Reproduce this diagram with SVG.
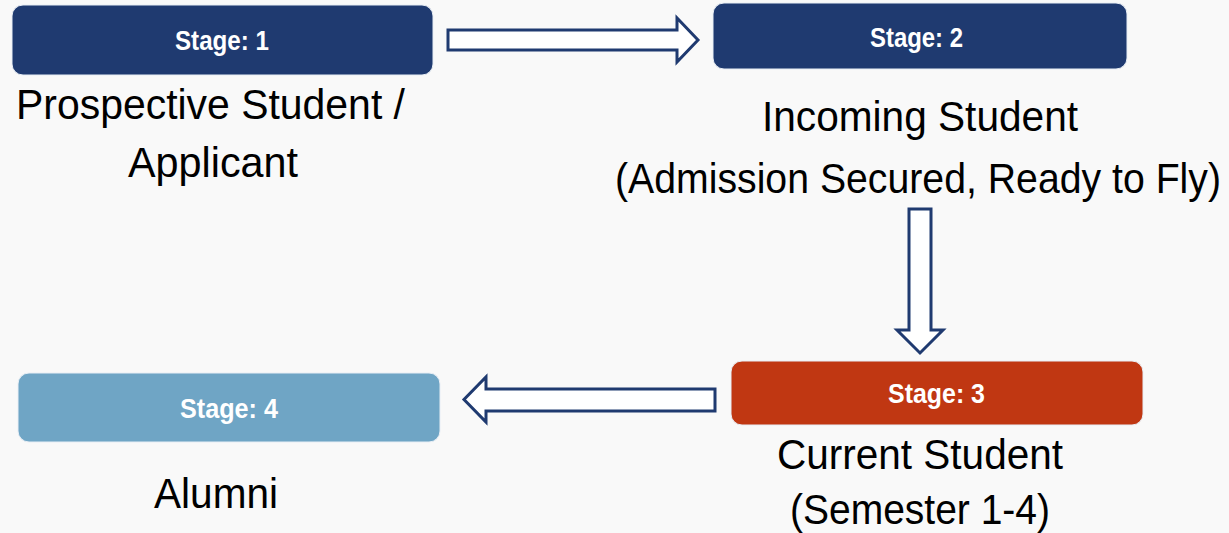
<svg xmlns="http://www.w3.org/2000/svg" width="1229" height="533" viewBox="0 0 1229 533">
<style>
.bg{fill:#f9f9f9}
.box{stroke:#e8eef5;stroke-width:1}
.stage{font-family:"Liberation Sans",Arial,sans-serif;font-weight:bold;font-size:27px;fill:#ffffff;text-anchor:middle}
.lbl{font-family:"Liberation Sans",Arial,sans-serif;font-size:42px;fill:#000000;text-anchor:middle}
.arrow{fill:#ffffff;stroke:#1f3a70;stroke-width:3;stroke-linejoin:miter}
</style>
<rect class="bg" x="0" y="0" width="1229" height="533"/>
<g id="connectors">
<polygon class="arrow" points="448,30 677,30 677,18 698,40 677,62 677,50 448,50"/>
<polygon class="arrow" points="909,209 931,209 931,330 943,330 920,353 897,330 909,330"/>
<polygon class="arrow" points="715,389 715,411 486,411 486,422 464,399.5 486,377 486,389"/>
</g>
<g id="stage1">
<rect class="box" x="12" y="5" width="421" height="70" rx="11" fill="#1f3a70"/>
<text class="stage" x="222" y="49.5" textLength="94" lengthAdjust="spacingAndGlyphs">Stage: 1</text>
<text class="lbl" x="210.5" y="118.5" textLength="389" lengthAdjust="spacingAndGlyphs">Prospective Student /</text>
<text class="lbl" x="213" y="177" textLength="170" lengthAdjust="spacingAndGlyphs">Applicant</text>
</g>
<g id="stage2">
<rect class="box" x="713" y="3" width="414" height="66" rx="11" fill="#1f3a70"/>
<text class="stage" x="916.5" y="46.5" textLength="93" lengthAdjust="spacingAndGlyphs">Stage: 2</text>
<text class="lbl" x="920" y="131" textLength="316" lengthAdjust="spacingAndGlyphs">Incoming Student</text>
<text class="lbl" x="918" y="193" textLength="606" lengthAdjust="spacingAndGlyphs">(Admission Secured, Ready to Fly)</text>
</g>
<g id="stage3">
<rect class="box" x="731" y="361" width="412" height="64" rx="11" fill="#c03712"/>
<text class="stage" x="936.5" y="403" textLength="97" lengthAdjust="spacingAndGlyphs">Stage: 3</text>
<text class="lbl" x="920" y="469" textLength="286" lengthAdjust="spacingAndGlyphs">Current Student</text>
<text class="lbl" x="920" y="524" textLength="260" lengthAdjust="spacingAndGlyphs">(Semester 1-4)</text>
</g>
<g id="stage4">
<rect class="box" x="18" y="373" width="422" height="69" rx="11" fill="#6fa5c5"/>
<text class="stage" x="229" y="417.5" textLength="98" lengthAdjust="spacingAndGlyphs">Stage: 4</text>
<text class="lbl" x="216" y="508" textLength="124" lengthAdjust="spacingAndGlyphs">Alumni</text>
</g>
</svg>
